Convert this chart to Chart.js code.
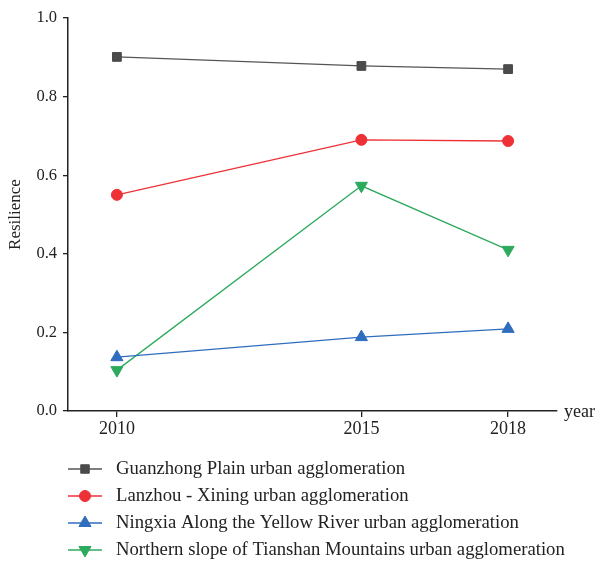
<!DOCTYPE html>
<html>
<head>
<meta charset="utf-8">
<script src="https://cdn.jsdelivr.net/npm/chart.js@4/dist/chart.umd.min.js"></script>
<style>
html,body{margin:0;padding:0;background:#fff;}
#wrap{width:599px;height:563px;position:relative;}
</style>
</head>
<body>
<div id="wrap"><canvas id="c" width="599" height="563"></canvas></div>
<script>
const years = [2010, 2015, 2018];
const yTicks = [0, 0.2, 0.4, 0.6, 0.8, 1.0];
const seriesNames = [
  "Guanzhong Plain urban agglomeration",
  "Lanzhou - Xining urban agglomeration",
  "Ningxia Along the Yellow River urban agglomeration",
  "Northern slope of Tianshan Mountains urban agglomeration"
];
const guanzhong = [0.901, 0.878, 0.870];
const lanzhou = [0.550, 0.690, 0.687];
const ningxia = [0.137, 0.188, 0.209];
const tianshan = [0.104, 0.573, 0.410];

const FONT = "'Liberation Serif', 'DejaVu Serif', serif";
const styles = [
  {color:'#4b4b4b', line:'#555555', pt:'rect', r:6.2, lr:6},
  {color:'#ee3136', line:'#ee3136', pt:'circle', r:5.5, lr:5.5},
  {color:'#2f6dbf', line:'#2f6dbf', pt:'triangle', r:7, lr:7},
  {color:'#2eaa5e', line:'#2eaa5e', pt:'triangle', r:7, lr:7, rot:180}
];
const values = [guanzhong, lanzhou, ningxia, tianshan];

const datasets = values.map((v,i)=>({
  label: seriesNames[i],
  data: years.map((x,j)=>({x:x, y:v[j]})),
  borderColor: styles[i].line,
  backgroundColor: styles[i].color,
  pointBackgroundColor: styles[i].color,
  pointBorderColor: styles[i].color,
  pointStyle: styles[i].pt,
  pointRotation: styles[i].rot || 0,
  pointRadius: styles[i].r,
  legendRadius: styles[i].lr,
  pointBorderWidth: 1,
  borderWidth: 1.3,
  tension: 0
}));

const extras = {
  id: 'extras',
  afterDraw(chart){
    const ctx = chart.ctx;
    const ca = chart.chartArea;
    ctx.save();
    ctx.fillStyle = '#222';
    ctx.font = "18px " + FONT;
    ctx.textBaseline = 'middle';
    ctx.textAlign = 'left';
    ctx.fillText('year', 564, ca.bottom + 1);
    // legend
    const rows = [469, 496, 523, 550];
    chart.data.datasets.forEach((ds,i)=>{
      const y = rows[i];
      ctx.strokeStyle = ds.borderColor;
      ctx.lineWidth = 1.3;
      ctx.beginPath();
      ctx.moveTo(68, y); ctx.lineTo(102, y); ctx.stroke();
      ctx.fillStyle = ds.pointBackgroundColor;
      ctx.strokeStyle = ds.pointBorderColor;
      ctx.lineWidth = 1;
      Chart.helpers.drawPoint(ctx, {pointStyle: ds.pointStyle, rotation: ds.pointRotation, radius: ds.legendRadius, borderWidth:1}, 85, y);
      ctx.fillStyle = '#222';
      ctx.font = "18.7px " + FONT;
      ctx.fillText(ds.label, 116, y);
    });
    ctx.restore();
  }
};

new Chart(document.getElementById('c'), {
  type: 'line',
  data: { datasets },
  options: {
    responsive: false,
    animation: false,
    layout: { padding: { top: 18, right: 42, left: 0, bottom: 0 } },
    plugins: { legend: { display: false }, tooltip: { enabled: false } },
    scales: {
      x: {
        type: 'linear',
        min: 2009, max: 2019,
        afterBuildTicks: s => { s.ticks = years.map(v=>({value:v})); },
        afterFit: s => { s.height = 152; },
        grid: { drawOnChartArea: false, drawTicks: true, tickLength: 6, color: '#222', lineWidth: 1.3 },
        border: { color: '#222', width: 1.5 },
        ticks: { color: '#222', font: { family: FONT, size: 18 }, padding: 1, callback: v => String(v) }
      },
      y: {
        min: 0, max: 1,
        afterBuildTicks: s => { s.ticks = yTicks.map(v=>({value:v})); },
        afterFit: s => { s.width = 68; },
        grid: { drawOnChartArea: false, drawTicks: true, tickLength: 5, color: '#222', lineWidth: 1.3 },
        border: { color: '#222', width: 1.5 },
        ticks: { color: '#222', font: { family: FONT, size: 16.5 }, padding: 6, callback: v => Number(v).toFixed(1) },
        title: { display: true, text: 'Resilience', color: '#222', font: { family: FONT, size: 17 }, padding: { top: 5, bottom: 0 } }
      }
    }
  },
  plugins: [extras]
});
</script>
</body>
</html>
